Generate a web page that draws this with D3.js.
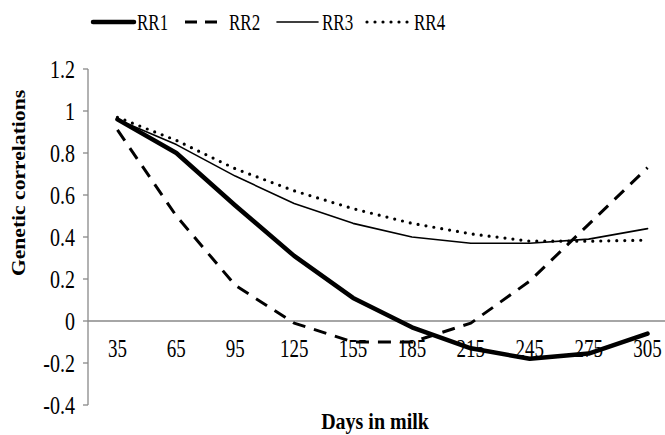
<!DOCTYPE html>
<html>
<head>
<meta charset="utf-8">
<script src="https://cdn.jsdelivr.net/npm/d3@7"></script>
<style>
  body { margin: 0; background: #fff; }
  svg { display: block; font-family: "Liberation Serif", "Times New Roman", serif; }
</style>
</head>
<body>
<svg width="665" height="435"></svg>
<script>
// days in milk
var days = [35, 65, 95, 125, 155, 185, 215, 245, 275, 305];
// genetic correlations per model
var rr1 = [0.96, 0.80, 0.55, 0.31, 0.11, -0.03, -0.13, -0.18, -0.155, -0.06];
var rr2 = [0.91, 0.50, 0.17, -0.01, -0.10, -0.10, -0.01, 0.19, 0.46, 0.73];
var rr3 = [0.96, 0.84, 0.69, 0.56, 0.465, 0.40, 0.37, 0.37, 0.39, 0.44];
var rr4 = [0.97, 0.86, 0.725, 0.62, 0.535, 0.465, 0.415, 0.38, 0.38, 0.385];
var yTicks = [-0.4, -0.2, 0, 0.2, 0.4, 0.6, 0.8, 1, 1.2];
var seriesNames = ['RR1', 'RR2', 'RR3', 'RR4'];

var svg = d3.select('svg');
var axisColor = '#898989';

// line styles for each series
var styles = {
    RR1: { width: 4.5, dash: null, cap: 'round' },
    RR2: { width: 3, dash: '13,9', cap: 'butt' },
    RR3: { width: 1.6, dash: null, cap: 'round' },
    RR4: { width: 3.2, dash: '0,8', cap: 'round' }
};

var x = d3.scaleBand().domain(days).range([88, 677]).padding(0);
var y = d3.scaleLinear().domain([-0.4, 1.2]).range([405, 69]);

function cx(d) { return x(d) + x.bandwidth() / 2; }

// y axis
var yAxis = svg.append('g');
yAxis.append('line')
    .attr('x1', 88).attr('x2', 88)
    .attr('y1', y(1.2)).attr('y2', y(-0.4))
    .attr('stroke', axisColor).attr('stroke-width', 1.3);
yAxis.selectAll('.tick').data(yTicks).enter()
    .append('line')
    .attr('x1', 83).attr('x2', 88)
    .attr('y1', function(d) { return y(d); })
    .attr('y2', function(d) { return y(d); })
    .attr('stroke', axisColor).attr('stroke-width', 1.3);
yAxis.selectAll('.lbl').data(yTicks).enter()
    .append('text')
    .attr('text-anchor', 'end')
    .attr('font-size', 20)
    .attr('transform', function(d) { return 'translate(75,' + (y(d) + 8.5) + ') scale(1,1.25)'; })
    .text(function(d) { return String(d); });

// x axis at zero
svg.append('line')
    .attr('x1', 88).attr('x2', 665)
    .attr('y1', y(0)).attr('y2', y(0))
    .attr('stroke', axisColor).attr('stroke-width', 1.5);

svg.append('g').selectAll('text').data(days).enter()
    .append('text')
    .attr('text-anchor', 'middle')
    .attr('font-size', 19)
    .attr('transform', function(d) { return 'translate(' + cx(d) + ',357) scale(1,1.3)'; })
    .text(function(d) { return d; });

// axis titles
svg.append('text')
    .attr('text-anchor', 'middle')
    .attr('font-size', 20)
    .attr('font-weight', 'bold')
    .attr('transform', 'translate(375,429) scale(1,1.2)')
    .text('Days in milk');

svg.append('text')
    .attr('text-anchor', 'middle')
    .attr('font-size', 18)
    .attr('font-weight', 'bold')
    .attr('transform', 'translate(25,183) rotate(-90) scale(1.2,1)')
    .text('Genetic correlations');

// the lines
var line = d3.line()
    .x(function(d, i) { return cx(days[i]); })
    .y(function(d) { return y(d); });

var allSeries = [rr1, rr2, rr3, rr4];
allSeries.forEach(function(vals, i) {
    var st = styles[seriesNames[i]];
    svg.append('path')
        .datum(vals)
        .attr('d', line)
        .attr('fill', 'none')
        .attr('stroke', '#000')
        .attr('stroke-width', st.width)
        .attr('stroke-dasharray', st.dash)
        .attr('stroke-linecap', st.cap)
        .attr('stroke-linejoin', 'round');
});

// legend
var legendPos = [
    { lx: 93, tx: 137 },
    { lx: 185, tx: 229 },
    { lx: 277, tx: 322 },
    { lx: 367, tx: 414 }
];
seriesNames.forEach(function(name, i) {
    var st = styles[name];
    var p = legendPos[i];
    var w = i === 1 ? 33 : 41;
    svg.append('line')
        .attr('x1', p.lx).attr('x2', p.lx + w)
        .attr('y1', 22).attr('y2', 22)
        .attr('stroke', '#000')
        .attr('stroke-width', st.width)
        .attr('stroke-dasharray', i === 1 ? '12,8' : st.dash)
        .attr('stroke-linecap', st.cap);
    svg.append('text')
        .attr('font-size', 17)
        .attr('transform', 'translate(' + p.tx + ',30) scale(1,1.35)')
        .text(name);
});
</script>
</body>
</html>
